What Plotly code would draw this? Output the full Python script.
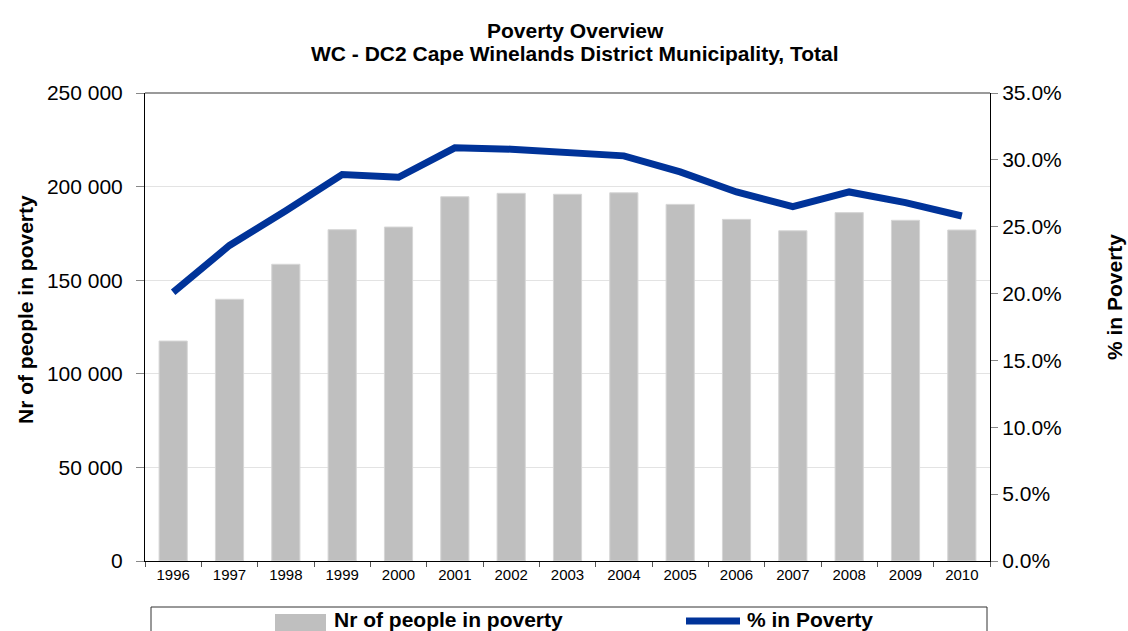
import plotly.graph_objects as go

# Poverty overview, Cape Winelands District Municipality
years = ["1996", "1997", "1998", "1999", "2000", "2001", "2002", "2003",
         "2004", "2005", "2006", "2007", "2008", "2009", "2010"]
people_in_poverty = [117500, 139800, 158500, 177000, 178400, 194600, 196400, 195900,
                     196700, 190500, 182500, 176400, 186100, 182000, 176800]
pct_in_poverty = [0.201, 0.236, 0.262, 0.289, 0.287, 0.309, 0.308, 0.305,
                  0.303, 0.291, 0.276, 0.265, 0.276, 0.268, 0.258]

W, H = 1128, 631
L, R, T, B = 145, 990, 93, 561  # plot area edges in pixels

BAR_COLOR = "#BFBFBF"
LINE_COLOR = "#003399"
FONT = "Liberation Sans, Arial, sans-serif"


def px_x(x):
    return (x - L) / (R - L)


def px_y(y):
    return (B - y) / (B - T)


fig = go.Figure()
fig.add_trace(go.Bar(
    x=years, y=people_in_poverty, name="Nr of people in poverty",
    marker=dict(color=BAR_COLOR, line=dict(color="#D6D6D6", width=1)),
    width=0.5, showlegend=False,
))
fig.add_trace(go.Scatter(
    x=years, y=pct_in_poverty, name="% in Poverty", yaxis="y2",
    mode="lines", line=dict(color=LINE_COLOR, width=7), showlegend=False,
))

fig.update_layout(
    width=W, height=H,
    margin=dict(l=L, r=W - R, t=T, b=H - B, pad=0),
    paper_bgcolor="white", plot_bgcolor="white",
    separators=". ",
    font=dict(family=FONT, color="black"),
    bargap=0.5,
    xaxis=dict(
        type="category", range=[-0.5, 14.5],
        showline=True, linecolor="black", linewidth=1,
        ticks="outside", tickson="boundaries", ticklen=5, tickcolor="#555555",
        tickfont=dict(size=15), showgrid=False,
    ),
    yaxis=dict(
        range=[0, 250000], dtick=50000, tickformat=",d",
        showline=True, linecolor="black", linewidth=1,
        ticks="outside", ticklen=8, tickcolor="#888888",
        ticklabelstandoff=9,
        tickfont=dict(size=21), showgrid=True, gridcolor="#E3E3E3", gridwidth=1,
        zeroline=False,
    ),
    yaxis2=dict(
        overlaying="y", side="right", range=[0, 0.35], dtick=0.05,
        tickformat=".1%", showline=True, linecolor="black", linewidth=1,
        ticks="outside", ticklen=7, tickcolor="#888888",
        tickfont=dict(size=21), showgrid=False, zeroline=False,
    ),
)

annotations = [
    dict(text="<b>Poverty Overview</b>", x=px_x(575), y=px_y(30), size=21),
    dict(text="<b>WC - DC2 Cape Winelands District Municipality, Total</b>",
         x=px_x(575), y=px_y(53), size=21),
    dict(text="<b>Nr of people in poverty</b>", x=px_x(25), y=px_y(310),
         textangle=-90, size=21),
    dict(text="<b>% in Poverty</b>", x=px_x(1114), y=px_y(297),
         textangle=-90, size=21),
    dict(text="<b>Nr of people in poverty</b>", x=px_x(332), y=px_y(619),
         xanchor="left", size=21),
    dict(text="<b>% in Poverty</b>", x=px_x(745), y=px_y(619),
         xanchor="left", size=21),
]
for a in annotations:
    size = a.pop("size")
    fig.add_annotation(
        xref="paper", yref="paper", showarrow=False,
        xanchor=a.pop("xanchor", "center"), yanchor="middle",
        font=dict(family=FONT, size=size, color="black"), **a,
    )

shapes = [
    # top frame line of the plot area
    dict(type="line", x0=0, x1=1, y0=1, y1=1, line=dict(color="#9A9A9A", width=2)),
    # legend frame
    dict(type="rect", x0=px_x(151), x1=px_x(987), y0=px_y(660), y1=px_y(607),
         line=dict(color="#333333", width=1), fillcolor="rgba(0,0,0,0)"),
    # legend swatches
    dict(type="rect", x0=px_x(275), x1=px_x(326), y0=px_y(631), y1=px_y(614),
         line=dict(width=0), fillcolor=BAR_COLOR),
    dict(type="line", x0=px_x(686), x1=px_x(740), y0=px_y(621), y1=px_y(621),
         line=dict(color=LINE_COLOR, width=7)),
]
for s in shapes:
    fig.add_shape(xref="paper", yref="paper", layer="above", **s)

fig.write_html("out.html")
